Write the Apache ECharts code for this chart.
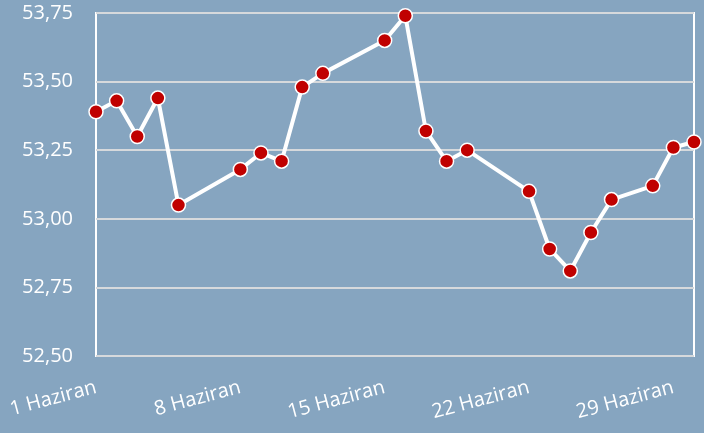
<!DOCTYPE html>
<html>
<head>
<meta charset="utf-8">
<script src="https://cdn.jsdelivr.net/npm/echarts@6/dist/echarts.min.js"></script>
<style>
  html, body { margin: 0; padding: 0; background: #86a5c0; }
  #main { width: 704px; height: 433px; }
</style>
</head>
<body>
<div id="main"></div>
<script>
// günler (Haziran) ve değerler
var days = [1, 2, 3, 4, 5, 8, 9, 10, 11, 12, 15, 16, 17, 18, 19, 22, 23, 24, 25, 26, 28, 29, 30];
var values = [53.39, 53.43, 53.30, 53.44, 53.05, 53.18, 53.24, 53.21, 53.48, 53.53, 53.65, 53.74,
              53.32, 53.21, 53.25, 53.10, 52.89, 52.81, 52.95, 53.07, 53.12, 53.26, 53.28];
var tickDays = [1, 8, 15, 22, 29];
var tickLabels = ['1 Haziran', '8 Haziran', '15 Haziran', '22 Haziran', '29 Haziran'];
var yTicks = [52.5, 52.75, 53.0, 53.25, 53.5, 53.75];

var chart = echarts.init(document.getElementById('main'));

var points = days.map(function (d, i) { return [d, values[i]]; });

var option = {
  backgroundColor: '#86a5c0',
  animation: false,
  textStyle: { fontFamily: 'Open Sans' },
  grid: { left: 96, right: 10, top: 13, bottom: 77, show: true, borderColor: '#ffffff', borderWidth: 2 },
  xAxis: {
    type: 'value', min: 1, max: 30, interval: 7,
    axisLine: { show: false }, axisTick: { show: false }, splitLine: { show: false },
    axisLabel: {
      rotate: 15, margin: 31, color: '#ffffff', fontSize: 20,
      showMaxLabel: false,
      formatter: function (v) {
        var i = tickDays.indexOf(v);
        return i >= 0 ? tickLabels[i] : '';
      }
    }
  },
  yAxis: {
    type: 'value', min: yTicks[0], max: yTicks[yTicks.length - 1], interval: 0.25,
    axisLine: { show: false }, axisTick: { show: false },
    axisLabel: {
      color: '#ffffff', fontSize: 20, margin: 23,
      formatter: function (v) { return v.toFixed(2).replace('.', ','); }
    },
    splitLine: { lineStyle: { color: '#d6d9dc', width: 2 } }
  },
  series: [
    {
      type: 'line',
      data: points,
      lineStyle: { color: '#ffffff', width: 4 },
      symbol: 'circle',
      symbolSize: 14,
      itemStyle: { color: '#c00000', borderColor: '#ffffff', borderWidth: 1.5 },
      z: 5
    }
  ]
};

chart.setOption(option);
</script>
</body>
</html>
